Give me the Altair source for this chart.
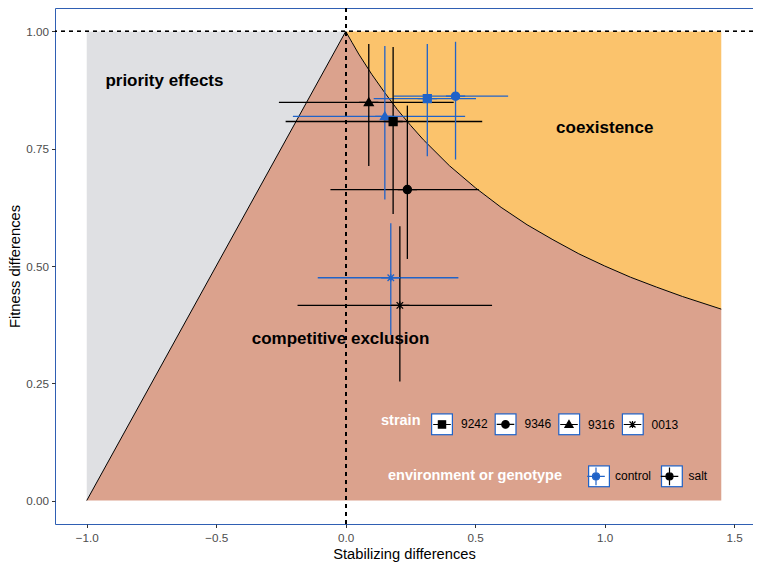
import altair as alt
import pandas as pd

FONT = "Liberation Sans, Arial, sans-serif"
BLUE = "#2063C8"
BORDER = "#2F5FB3"
GREY = "#DFE0E3"
BROWN = "#DBA28D"
ORANGE = "#FBC36C"

# ---- boundary between regions ----
bound_x = [-1.0, 0.0, 0.025, 0.05, 0.1, 0.15, 0.2, 0.25, 0.3, 0.4, 0.5, 0.6, 0.7,
           0.8, 0.9, 1.0, 1.1, 1.2, 1.3, 1.45]
bound_y = [0.0, 1.0, 0.976, 0.952, 0.909, 0.870, 0.833, 0.800, 0.769, 0.714, 0.667,
           0.625, 0.588, 0.556, 0.526, 0.500, 0.476, 0.455, 0.435, 0.408]

# ---- region labels ----
region_text = ["priority effects", "coexistence", "competitive exclusion"]
region_x = [-0.70, 1.0, -0.02]
region_y = [0.895, 0.795, 0.345]

# ---- estimates ----
strain = ["9316", "9242", "9346", "9316", "9242", "9346", "0013", "0013"]
env = ["salt", "control", "control", "control", "salt", "salt", "control", "salt"]
stab = [0.089, 0.315, 0.424, 0.151, 0.183, 0.238, 0.174, 0.209]
fit = [0.849, 0.857, 0.862, 0.819, 0.808, 0.663, 0.475, 0.416]
stab_lo = [-0.258, 0.108, 0.186, -0.204, -0.232, -0.059, -0.108, -0.186]
stab_hi = [0.417, 0.503, 0.627, 0.461, 0.527, 0.514, 0.435, 0.565]
fit_lo = [0.713, 0.734, 0.727, 0.642, 0.611, 0.515, 0.353, 0.254]
fit_hi = [0.973, 0.973, 0.978, 0.969, 0.967, 0.842, 0.591, 0.585]

strain_order = ["9242", "9346", "9316", "0013"]
env_order = ["control", "salt"]

x_ticks = [-1.0, -0.5, 0.0, 0.5, 1.0, 1.5]
y_ticks = [0.0, 0.25, 0.5, 0.75, 1.0]

# marker glyphs (with the crossbar stub of the key glyph)
shape_paths = [
    "M-0.8,0H0.8M-0.33,-0.33H0.33V0.33H-0.33Z",
    "M-0.8,0H0.8M-0.34,0A0.34,0.34 0 1,0 0.34,0A0.34,0.34 0 1,0 -0.34,0Z",
    "M-0.8,0H0.8M0,-0.36L0.37,0.27H-0.37Z",
    "M-0.8,0H0.8M0,-0.32V0.32M-0.27,-0.27L0.27,0.27M-0.27,0.27L0.27,-0.27",
]
env_key = ("M-0.8,0H0.8M0,-0.8V0.8M-0.32,0A0.32,0.32 0 1,0 0.32,0"
           "A0.32,0.32 0 1,0 -0.32,0Z")
# white inner square; the zero-length corner segments keep its bounds equal to a full square
inner_box = "M-1,-1L-1,-1M1,1L1,1M-0.89,-0.89H0.89V0.89H-0.89Z"

bdf = pd.DataFrame({"x": bound_x, "yb": bound_y})
tdf = pd.DataFrame({"label": region_text, "x": region_x, "y": region_y})
df = pd.DataFrame({"strain": strain, "env": env, "x": stab, "y": fit,
                   "xlo": stab_lo, "xhi": stab_hi, "ylo": fit_lo, "yhi": fit_hi})

xscale = alt.Scale(domain=[-1.1225, 1.5725], nice=False, zero=False)
yscale = alt.Scale(domain=[-0.05, 1.05], nice=False, zero=False)
xaxis = alt.Axis(values=x_ticks, format=".1f", title="Stabilizing differences")
yaxis = alt.Axis(values=y_ticks, format=".2f", title="Fitness differences")
X = alt.X("x:Q", scale=xscale, axis=xaxis)
Y = alt.Y("y:Q", scale=yscale, axis=yaxis)
env_scale = alt.Scale(domain=env_order, range=[BLUE, "black"])

brown = alt.Chart(bdf).mark_area(color=BROWN).encode(
    x=X, y=alt.Y("yb:Q", scale=yscale, axis=yaxis), y2=alt.datum(0))
grey = alt.Chart(bdf).transform_filter("datum.x <= 0").mark_area(color=GREY).encode(
    x=X, y=alt.Y("yb:Q", scale=yscale, axis=yaxis), y2=alt.datum(1))
orange = alt.Chart(bdf).transform_filter("datum.x >= 0").mark_area(color=ORANGE).encode(
    x=X, y=alt.Y("yb:Q", scale=yscale, axis=yaxis), y2=alt.datum(1))
bline = alt.Chart(bdf).mark_line(color="black", strokeWidth=1).encode(
    x=X, y=alt.Y("yb:Q", scale=yscale, axis=yaxis))

vdash = alt.Chart(bdf).mark_rule(color="black", strokeWidth=1, strokeDash=[4, 4]).encode(
    x=alt.datum(0.0))
hdash = alt.Chart(bdf).mark_rule(color="black", strokeWidth=1, strokeDash=[4, 4]).encode(
    y=alt.datum(1.0))

texts = alt.Chart(tdf).mark_text(font=FONT, fontSize=17, fontWeight="bold",
                                 color="black").encode(x=X, y=Y, text="label:N")

common = dict(orient="none", direction="horizontal", titleOrient="left", padding=0,
              symbolSize=484, labelOffset=7, columnPadding=5.5,
              labelFont=FONT, labelFontSize=12, labelColor="black",
              titleFont=FONT, titleFontSize=14.5, titleFontWeight="bold",
              titleColor="white", titleAnchor="middle", titleBaseline="middle")

strain_leg = alt.Legend(title="strain", symbolFillColor="black", symbolStrokeColor="black",
                        symbolStrokeWidth=1.2, zindex=3, legendX=326, legendY=404,
                        titlePadding=9, **common)
env_leg = alt.Legend(title="environment or genotype", symbolType=env_key,
                     symbolStrokeWidth=1.2, zindex=3, legendX=333, legendY=456,
                     titlePadding=21, **common)

hbar = alt.Chart(df).mark_rule(strokeWidth=1.3).encode(
    x=alt.X("xlo:Q", scale=xscale, axis=xaxis), x2="xhi:Q", y=Y,
    stroke=alt.Stroke("env:N", scale=env_scale, legend=env_leg))
vbar = alt.Chart(df).mark_rule(strokeWidth=1.3).encode(
    x=X, y=alt.Y("ylo:Q", scale=yscale, axis=yaxis), y2="yhi:Q",
    stroke=alt.Stroke("env:N", scale=env_scale, legend=env_leg))

points = alt.Chart(df).mark_point(filled=True, size=576, strokeWidth=1.3, opacity=1).encode(
    x=X, y=Y,
    shape=alt.Shape("strain:N", scale=alt.Scale(domain=strain_order, range=shape_paths),
                    legend=strain_leg),
    fill=alt.Fill("env:N", scale=env_scale, legend=env_leg),
    stroke=alt.Stroke("env:N", scale=env_scale, legend=env_leg))


# key boxes (blue square with a white square on top) beneath the legend glyphs
def key_boxes(values, prefix, lx, ly, cpad, fill, symbol, z):
    field = prefix + "_key"
    kdf = pd.DataFrame({field: [prefix + v for v in values]})
    return alt.Chart(kdf).mark_point(shape="square", filled=True, fill=fill,
                                     strokeWidth=1.2, opacity=0).encode(
        size=alt.Size(field + ":N",
                      scale=alt.Scale(domain=list(kdf[field]), range=[484, 484]),
                      legend=alt.Legend(orient="none", direction="horizontal", padding=0,
                                        title=None, symbolType=symbol, symbolSize=484,
                                        symbolFillColor=fill,
                                        symbolStrokeColor="transparent",
                                        symbolStrokeWidth=1.2, symbolOpacity=1,
                                        labelExpr="''", labelOffset=0, labelFontSize=1,
                                        legendX=lx, legendY=ly, columnPadding=cpad,
                                        zindex=z)))


boxes = [
    key_boxes(strain_order, "sb", 375, 404, 35.6, BLUE, "square", 1),
    key_boxes(strain_order, "sw", 375, 404, 35.6, "white", inner_box, 2),
    key_boxes(env_order, "eb", 532, 456, 44.9, BLUE, "square", 1),
    key_boxes(env_order, "ew", 532, 456, 44.9, "white", inner_box, 2),
]

chart = alt.layer(grey, brown, orange, bline, vdash, hdash, texts, hbar, vbar, points,
                  *boxes).resolve_scale(size="independent").properties(
    width=698, height=516,
    autosize=alt.AutoSizeParams(type="none"),
    padding={"left": 47, "top": 0, "right": 0, "bottom": 38},
    background="white",
).configure_view(stroke=BORDER, strokeWidth=1).configure_axis(
    grid=False, domain=False, tickColor="#333333", tickSize=3.5, tickWidth=1,
    labelFont=FONT, labelFontSize=11.7, labelColor="#4D4D4D", labelPadding=3,
    titleFont=FONT, titleFontSize=14.7, titleFontWeight="normal", titleColor="black",
).configure_axisX(labelPadding=5, titlePadding=2).configure_axisY(titlePadding=3)

chart.save("out.html", embed_options={"renderer": "svg", "actions": False})
